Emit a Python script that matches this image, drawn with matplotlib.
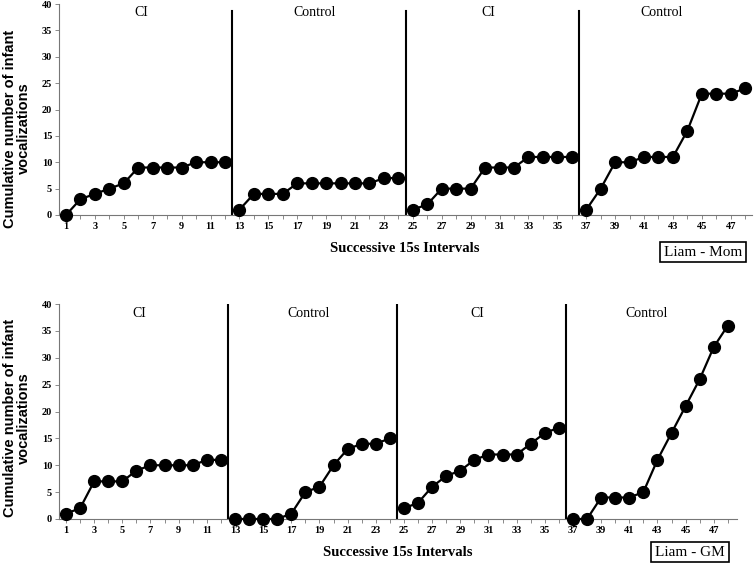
import matplotlib
matplotlib.use('Agg')
import matplotlib.pyplot as plt
import numpy as np

# ---- data ----
phase_labels = ["CI", "Control", "CI", "Control"]
mom_phases = [
    [0, 3, 4, 5, 6, 9, 9, 9, 9, 10, 10, 10],
    [1, 4, 4, 4, 6, 6, 6, 6, 6, 6, 7, 7],
    [1, 2, 5, 5, 5, 9, 9, 9, 11, 11, 11, 11],
    [1, 5, 10, 10, 11, 11, 11, 16, 23, 23, 23, 24],
]
gm_phases = [
    [1, 2, 7, 7, 7, 9, 10, 10, 10, 10, 11, 11],
    [0, 0, 0, 0, 1, 5, 6, 10, 13, 14, 14, 15],
    [2, 3, 6, 8, 9, 11, 12, 12, 12, 14, 16, 17],
    [0, 0, 4, 4, 4, 5, 11, 16, 21, 26, 32, 36],
]
panel_names = ["Liam - Mom", "Liam - GM"]
x_tick_labels = list(range(1, 48, 2))
y_tick_labels = list(range(0, 41, 5))
phase_len = 12

W, H = 756, 569
fig = plt.figure(figsize=(W / 100, H / 100), dpi=100)

serif = ['Liberation Serif', 'DejaVu Serif']
sans = ['Liberation Sans', 'DejaVu Sans']

# axes geometry in px
panels = [
    dict(data=mom_phases, left=59, right=752, top=4, bottom=215,
         xlim=(0.516, 48.47), vtop=0.965, xlab=(405, 248), box=(703, 252),
         ylab_y=0.41),
    dict(data=gm_phases, left=59, right=737, top=304, bottom=519,
         xlim=(0.503, 48.65), vtop=1.0, xlab=(398, 552), box=(690, 552),
         ylab_y=0.47),
]

for p, name in zip(panels, panel_names):
    wpx = p['right'] - p['left']
    ax = fig.add_axes([p['left'] / W, 1 - p['bottom'] / H,
                       wpx / W, (p['bottom'] - p['top']) / H])
    ax.set_xlim(*p['xlim'])
    ax.set_ylim(0, 40)
    for i, vals in enumerate(p['data']):
        xs = np.arange(1, phase_len + 1) + i * phase_len
        ax.plot(xs, vals, color='black', lw=1.6, marker='o', ms=8.5,
                markerfacecolor='black', markeredgecolor='black', clip_on=False, zorder=3)
        cx = (xs[0] + xs[-1]) / 2
        ax.text(cx - 0.3, 38.3, phase_labels[i], ha='center', va='center',
                fontsize=10, family=serif)
        if i > 0:
            ax.axvline(xs[0] - 0.5, ymin=0, ymax=p['vtop'], color='black', lw=1.5)
    for s in ['top', 'right']:
        ax.spines[s].set_visible(False)
    for s in ['left', 'bottom']:
        ax.spines[s].set_color('#777777')
        ax.spines[s].set_linewidth(0.8)
    ax.set_xticks(x_tick_labels)
    ax.set_xticks(range(1, 49), minor=True)
    ax.set_xticklabels([str(t) for t in x_tick_labels], fontsize=7.5,
                       fontweight='bold', family=serif)
    ax.set_yticks(y_tick_labels)
    ax.set_yticklabels([str(t) for t in y_tick_labels], fontsize=7.5,
                       fontweight='bold', family=serif)
    ax.tick_params(axis='both', which='both', direction='out', length=3,
                   width=0.6, color='#777777', pad=2)
    ax.set_ylabel("Cumulative number of infant\nvocalizations", fontsize=10.5,
                  fontweight='bold', family=sans, linespacing=1.0)
    ax.yaxis.set_label_coords((31 - p['left']) / wpx, p['ylab_y'])
    fig.text(p['xlab'][0] / W, 1 - p['xlab'][1] / H, "Successive 15s Intervals",
             ha='center', va='center', fontsize=10.5, fontweight='bold', family=serif)
    fig.text(p['box'][0] / W, 1 - p['box'][1] / H, name, ha='center', va='center',
             fontsize=11, family=serif,
             bbox=dict(boxstyle='square,pad=0.25', facecolor='white',
                       edgecolor='black', lw=1.2))

fig.savefig('out.png', dpi=100)
